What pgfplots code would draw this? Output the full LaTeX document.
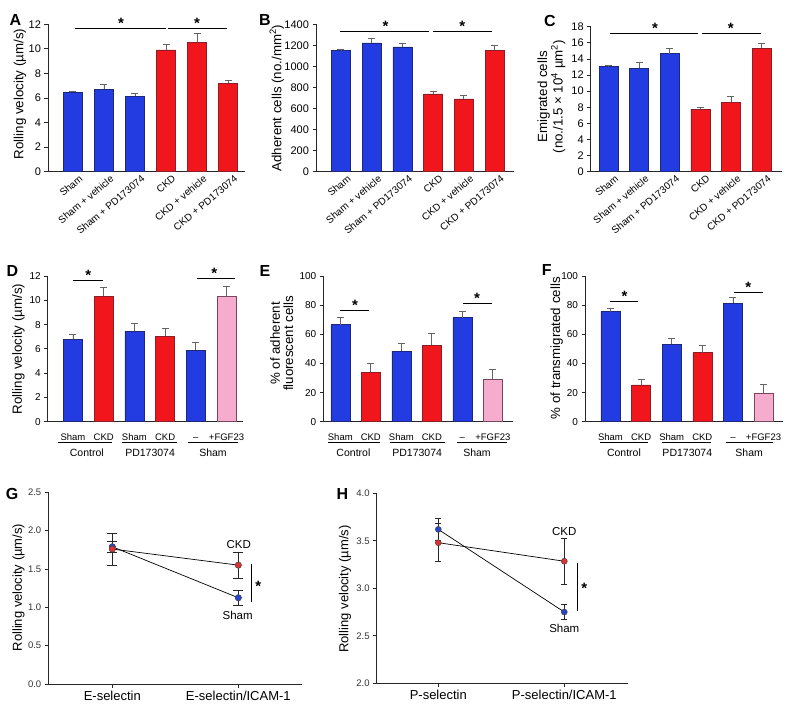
\documentclass[border=0pt]{standalone}
\usepackage{fontspec}
\setmainfont{Liberation Sans}
\usepackage{pgfplots}
\pgfplotsset{compat=1.18}
\definecolor{bfill}{RGB}{35,60,225}
\definecolor{bdraw}{RGB}{30,40,120}
\definecolor{rfill}{RGB}{240,22,28}
\definecolor{rdraw}{RGB}{140,30,40}
\definecolor{pfill}{RGB}{246,172,204}
\definecolor{pdraw}{RGB}{120,70,95}
\definecolor{errc}{RGB}{100,100,100}
\definecolor{mblue}{RGB}{40,70,205}
\definecolor{mred}{RGB}{222,50,50}
\newcommand\fs[1]{\fontsize{#1}{#1}\selectfont}
\pgfplotsset{
  common/.style={scale only axis, clip=false,
    axis x line*=bottom, axis y line*=left,
    axis line style={line width=0.8pt, black!85},
    tick style={line width=0.8pt, black!85},
    tick align=outside, major tick length=3.5pt,
    /pgf/number format/assume math mode=true,
    /pgf/number format/1000 sep={},
  },
  barax/.style={common, ybar, bar width=19pt, ymin=0, xtick={0,...,5},
    xtick style={draw=none},
    ylabel style={font=\fs{13.3}, align=center},
  },
  rotlab/.style={yticklabel style={font=\fs{11}},
    xticklabel style={rotate=40, anchor=north east, inner sep=0pt, font=\fs{10}, xshift=5pt, yshift=-3pt},
    xticklabels={Sham, Sham + vehicle, Sham + PD173074, CKD, CKD + vehicle, CKD + PD173074}},
  grplab/.style={yticklabel style={font=\fs{10}},
    xticklabel style={anchor=base, font=\fs{9.5}, yshift=-15pt},
    xticklabels={Sham, CKD, Sham, CKD, –, +FGF23}},
  eb/.style={error bars/.cd, y dir=plus, y explicit,
    error bar style={line width=0.8pt, errc},
    error mark options={rotate=90, mark size=3.5pt, line width=0.8pt, errc}},
  bB/.style={fill=bfill, draw=bdraw, line width=0.5pt, bar shift=0pt, eb},
  bR/.style={fill=rfill, draw=rdraw, line width=0.5pt, bar shift=0pt, eb},
  bP/.style={fill=pfill, draw=pdraw, line width=0.5pt, bar shift=0pt, eb},
  lineax/.style={common, xtick={0,1},
    yticklabel style={font=\fs{9.5}, black!80},
    xticklabel style={font=\fs{13}},
    ylabel style={font=\fs{13}},
    /pgf/number format/fixed, /pgf/number format/fixed zerofill, /pgf/number format/precision=1},
  ebl/.style={error bars/.cd, y dir=both, y explicit,
    error bar style={line width=0.8pt, black!85},
    error mark options={rotate=90, mark size=#1, line width=0.8pt, black!85}},
}
\tikzset{sig/.style={line width=1.1pt, black},
  star/.style={font=\fs{15}\bfseries, anchor=base, inner sep=0pt},
  plab/.style={font=\fs{16}\bfseries, inner sep=0pt},
  grp/.style={line width=0.8pt, black}}
\newcommand\grpline[2]{\draw[grp] ([yshift=-20.6pt]axis cs:#1,0) -- ([yshift=-20.6pt]axis cs:#2,0);}
\newcommand\grptext[2]{\node[font=\fs{10.5}, anchor=base] at ([yshift=-35pt]axis cs:#1,0) {#2};}
\begin{document}
\begin{tikzpicture}
\path[use as bounding box] (0pt,0pt) rectangle (796pt,-712pt);
% ---------- A
\begin{axis}[barax, rotlab, at={(48pt,-171.7pt)}, anchor=south west, width=197pt, height=147.4pt,
  xmin=-0.806, xmax=5.548, ymax=12, ytick={0,2,...,12},
  ylabel={Rolling velocity (µm/s)},
  ylabel style={at={(axis description cs:-0.142,0.527)}, anchor=center}]
\addplot[bB] coordinates {(0,6.47) +- (0,0.1) (1,6.72) +- (0,0.38) (2,6.14) +- (0,0.22)};
\addplot[bR] coordinates {(3,9.91) +- (0,0.48) (4,10.54) +- (0,0.7) (5,7.22) +- (0,0.18)};
\draw[sig] (axis cs:0.07,11.68) -- (axis cs:3.0,11.68);
\draw[sig] (axis cs:3.06,11.68) -- (axis cs:4.97,11.68);
\node[star] at (axis cs:1.55,11.68) {*};
\node[star] at (axis cs:4.0,11.68) {*};
\end{axis}
% ---------- B
\begin{axis}[barax, rotlab, at={(316pt,-171.7pt)}, anchor=south west, width=198pt, height=147.4pt,
  xmin=-0.814, xmax=5.635, ymax=1400, ytick={0,200,...,1400},
  ylabel={Adherent cells (no./mm\textsuperscript{2})},
  ylabel style={at={(axis description cs:-0.198,0.5)}, anchor=center}]
\addplot[bB] coordinates {(0,1150) +- (0,13) (1,1223) +- (0,42) (2,1185) +- (0,35)};
\addplot[bR] coordinates {(3,739) +- (0,19) (4,691) +- (0,38) (5,1154) +- (0,50)};
\draw[sig] (axis cs:-0.03,1331) -- (axis cs:2.87,1331);
\draw[sig] (axis cs:3.0,1331) -- (axis cs:4.91,1331);
\node[star] at (axis cs:1.45,1331) {*};
\node[star] at (axis cs:3.95,1331) {*};
\end{axis}
% ---------- C
\begin{axis}[barax, rotlab, at={(590.7pt,-171.7pt)}, anchor=south west, width=191pt, height=145pt,
  xmin=-0.582, xmax=5.66, ymax=18, ytick={0,2,...,18},
  ylabel={Emigrated cells\\(no./1.5 × 10\textsuperscript{4} µm\textsuperscript{2})},
  ylabel style={at={(axis description cs:-0.205,0.517)}, anchor=center}]
\addplot[bB] coordinates {(0,13.03) +- (0,0.12) (1,12.83) +- (0,0.7) (2,14.65) +- (0,0.65)};
\addplot[bR] coordinates {(3,7.78) +- (0,0.21) (4,8.61) +- (0,0.7) (5,15.35) +- (0,0.54)};
\draw[sig] (axis cs:0.05,17.18) -- (axis cs:2.93,17.18);
\draw[sig] (axis cs:3.07,17.18) -- (axis cs:4.97,17.18);
\node[star] at (axis cs:1.52,17.18) {*};
\node[star] at (axis cs:4.0,17.18) {*};
\end{axis}
% ---------- D
\begin{axis}[barax, grplab, at={(47.7pt,-421.7pt)}, anchor=south west, width=195.6pt, height=145.7pt,
  xmin=-0.824, xmax=5.547, ymax=12, ytick={0,2,...,12},
  ylabel={Rolling velocity (µm/s)},
  ylabel style={at={(axis description cs:-0.150,0.5)}, anchor=center}]
\addplot[bB] coordinates {(0,6.79) +- (0,0.43) (2,7.45) +- (0,0.65) (4,5.9) +- (0,0.6)};
\addplot[bR] coordinates {(1,10.35) +- (0,0.72) (3,7.03) +- (0,0.63)};
\addplot[bP] coordinates {(5,10.3) +- (0,0.85)};
\draw[sig] (axis cs:0.01,11.6) -- (axis cs:0.97,11.6);
\draw[sig] (axis cs:4.05,11.8) -- (axis cs:5.27,11.8);
\node[star] at (axis cs:0.5,11.6) {*};
\node[star] at (axis cs:4.6,11.8) {*};
\grpline{-0.49}{1.27}\grpline{1.59}{3.38}\grpline{3.76}{5.38}
\grptext{0.45}{Control}\grptext{2.51}{PD173074}\grptext{4.56}{Sham}
\end{axis}
% ---------- E
\begin{axis}[barax, grplab, at={(323.3pt,-421.7pt)}, anchor=south west, width=189.7pt, height=145.7pt,
  xmin=-0.557, xmax=5.66, ymax=100, ytick={0,20,...,100},
  ylabel={\% of adherent\\fluorescent cells},
  ylabel style={at={(axis description cs:-0.219,0.538)}, anchor=center}]
\addplot[bB] coordinates {(0,66.6) +- (0,5.0) (2,48.5) +- (0,5.3) (4,71.4) +- (0,4.4)};
\addplot[bR] coordinates {(1,33.9) +- (0,6.2) (3,52.4) +- (0,8.5)};
\addplot[bP] coordinates {(5,29.3) +- (0,6.6)};
\draw[sig] (axis cs:0,76.5) -- (axis cs:0.95,76.5);
\draw[sig] (axis cs:4.01,81.3) -- (axis cs:4.96,81.3);
\node[star] at (axis cs:0.48,76.5) {*};
\node[star] at (axis cs:4.48,81.3) {*};
\grpline{-0.39}{1.30}\grpline{1.63}{3.43}\grpline{3.82}{5.46}
\grptext{0.43}{Control}\grptext{2.52}{PD173074}\grptext{4.48}{Sham}
\end{axis}
% ---------- F
\begin{axis}[barax, grplab, at={(585pt,-421.7pt)}, anchor=south west, width=198pt, height=145.7pt,
  xmin=-0.833, xmax=5.637, ymax=100, ytick={0,20,...,100},
  ylabel={\% of transmigrated cells},
  ylabel style={at={(axis description cs:-0.143,0.504)}, anchor=center}]
\addplot[bB] coordinates {(0,75.5) +- (0,2.3) (2,53.3) +- (0,4.1) (4,81.3) +- (0,4.1)};
\addplot[bR] coordinates {(1,25.2) +- (0,3.9) (3,47.4) +- (0,4.8)};
\addplot[bP] coordinates {(5,19.5) +- (0,6.2)};
\draw[sig] (axis cs:0,82.4) -- (axis cs:0.91,82.4);
\draw[sig] (axis cs:4.04,88.8) -- (axis cs:4.97,88.8);
\node[star] at (axis cs:0.46,82.4) {*};
\node[star] at (axis cs:4.5,88.8) {*};
\grpline{-0.34}{1.24}\grpline{1.67}{3.27}\grpline{3.76}{5.32}
\grptext{0.44}{Control}\grptext{2.51}{PD173074}\grptext{4.53}{Sham}
\end{axis}
% ---------- G
\begin{axis}[lineax, at={(48.3pt,-684pt)}, anchor=south west, width=253.4pt, height=191.7pt,
  xmin=-0.508, xmax=1.503, ymin=0, ymax=2.5, ytick={0,0.5,1,1.5,2,2.5},
  xticklabels={E-selectin, E-selectin/ICAM-1},
  ylabel={Rolling velocity (µm/s)},
  ylabel style={at={(axis description cs:-0.118,0.503)}, anchor=center}]
\addplot[black, line width=0.7pt, mark=*, mark size=3.2pt, mark options={fill=mblue, draw=black!75, line width=0.5pt}, ebl=5pt]
  coordinates {(0,1.79) +- (0,0.07) (1,1.125) +- (0,0.095)};
\addplot[black, line width=0.7pt, mark=*, mark size=3.2pt, mark options={fill=mred, draw=black!75, line width=0.5pt}, ebl=5pt]
  coordinates {(0,1.76) +- (0,0.21) (1,1.55) +- (0,0.17)};
\node[font=\fs{11.5}] at (axis cs:1.003,1.82) {CKD};
\node[font=\fs{11.5}] at (axis cs:0.995,0.90) {Sham};
\draw[line width=1.5pt] (axis cs:1.106,1.57) -- (axis cs:1.106,1.065);
\node[star, yshift=-6.6pt] at (axis cs:1.159,1.29) {*};
\end{axis}
% ---------- H
\begin{axis}[lineax, at={(376.7pt,-683.3pt)}, anchor=south west, width=251.6pt, height=190pt,
  xmin=-0.489, xmax=1.508, ymin=2, ymax=4, ytick={2,2.5,3,3.5,4},
  xticklabels={P-selectin, P-selectin/ICAM-1},
  ylabel={Rolling velocity (µm/s)},
  ylabel style={at={(axis description cs:-0.126,0.496)}, anchor=center}]
\addplot[black, line width=0.7pt, mark=*, mark size=3pt, mark options={fill=mred, draw=black!75, line width=0.5pt}, ebl=3pt]
  coordinates {(0,3.48) +- (0,0.2) (1,3.285) +- (0,0.245)};
\addplot[black, line width=0.7pt, mark=*, mark size=3pt, mark options={fill=mblue, draw=black!75, line width=0.5pt}, ebl=3pt]
  coordinates {(0,3.62) +- (0,0.12) (1,2.75) +- (0,0.08)};
\node[font=\fs{11.5}] at (axis cs:1.0,3.596) {CKD};
\node[font=\fs{11.5}] at (axis cs:1.0,2.579) {Sham};
\draw[line width=1.5pt] (axis cs:1.103,3.27) -- (axis cs:1.103,2.76);
\node[star, yshift=-6.6pt] at (axis cs:1.159,3.017) {*};
\end{axis}
% ---------- panel letters
\node[plab] at (15.3pt,-20.2pt) {A};
\node[plab] at (265pt,-20pt) {B};
\node[plab] at (550pt,-20.5pt) {C};
\node[plab] at (12.5pt,-271pt) {D};
\node[plab] at (265pt,-270.5pt) {E};
\node[plab] at (546.7pt,-269.5pt) {F};
\node[plab] at (12.2pt,-493.8pt) {G};
\node[plab] at (342.5pt,-493.8pt) {H};
\end{tikzpicture}
\end{document}
